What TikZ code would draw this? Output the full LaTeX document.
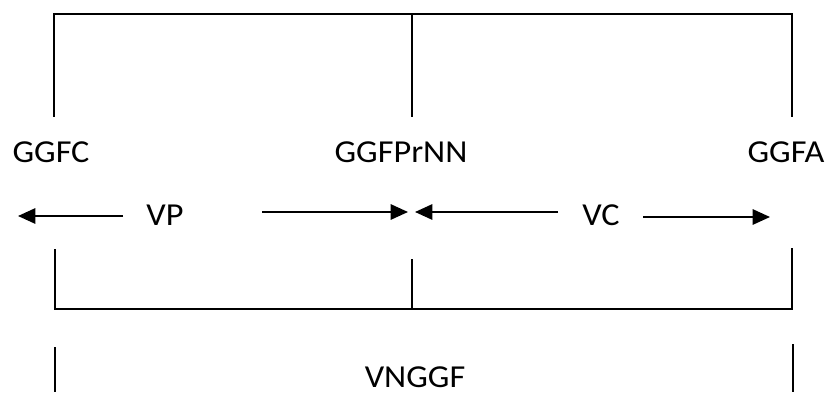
\documentclass[tikz,border=0pt]{standalone}
\usepackage{fontspec}
\setmainfont{Carlito}[FakeStretch=1.07]
\usetikzlibrary{arrows.meta}
\begin{document}
\begin{tikzpicture}[x=0.75pt,y=-0.75pt,line width=1.4pt,
        lbl/.style={inner sep=0pt,anchor=base,font=\fontsize{24}{29}\selectfont},
        span/.style={-{Triangle[length=13pt,width=11.5pt]}}]
        \useasboundingbox (0,0) rectangle (830,392);

        \coordinate (topL) at (54,14);
        \coordinate (topM) at (412,14);
        \coordinate (topR) at (792,14);
        \coordinate (legL) at (54,117);
        \coordinate (legM) at (412,117);
        \coordinate (legR) at (792,117);

        \node[lbl] (ggfc) at (51,162) {GGFC};
        \node[lbl] (ggfprnn) at (401,162) {GGFPrNN};
        \node[lbl] (ggfa) at (786,162) {GGFA};

        \node[lbl] (vp) at (165,225) {VP};
        \node[lbl] (vc) at (601,225) {VC};

        \coordinate (vpFrom) at (123,216);
        \coordinate (vpTo) at (18,216);
        \coordinate (vpFrom2) at (262,212);
        \coordinate (vpTo2) at (408,212);
        \coordinate (vcFrom) at (558,212);
        \coordinate (vcTo) at (415,212);
        \coordinate (vcFrom2) at (643,217);
        \coordinate (vcTo2) at (770,217);

        \coordinate (midL) at (55,249);
        \coordinate (midM) at (412,259);
        \coordinate (midR) at (792,248);
        \coordinate (baseL) at (55,309);
        \coordinate (baseM) at (412,309);
        \coordinate (baseR) at (792,309);

        \coordinate (lowL) at (55,347);
        \coordinate (lowR) at (793,344);
        \coordinate (endL) at (55,392);
        \coordinate (endR) at (793,392);

        \node[lbl] (vnggf) at (415,387) {VNGGF};

        \draw (legL) -- (topL) -- (topR) -- (legR);
        \draw (topM) -- (legM);

        \draw[span] (vpFrom) -- (vpTo);
        \draw[span] (vpFrom2) -- (vpTo2);
        \draw[span] (vcFrom) -- (vcTo);
        \draw[span] (vcFrom2) -- (vcTo2);

        \draw (midL) -- (baseL) -- (baseR) -- (midR);
        \draw (midM) -- (baseM);

        \draw (lowL) -- (endL);
        \draw (lowR) -- (endR);
    \end{tikzpicture}
\end{document}
